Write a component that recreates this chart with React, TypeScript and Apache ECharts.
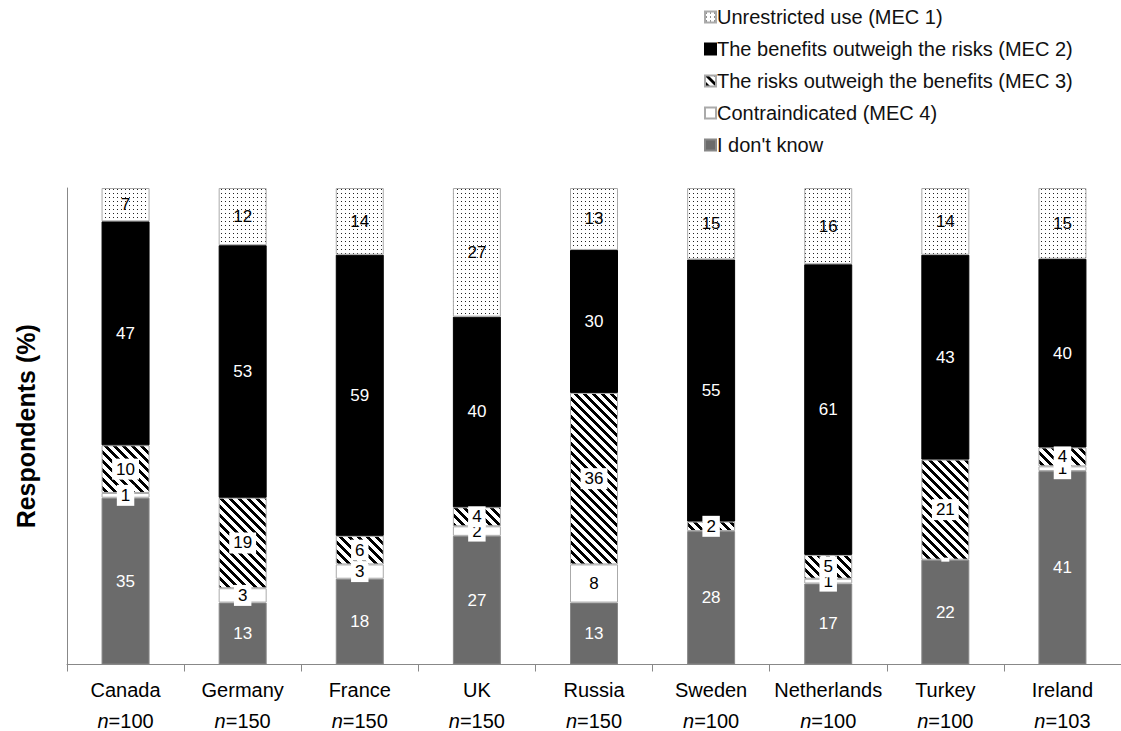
import React, { useEffect, useRef } from "react";
import * as echarts from "echarts";

const countries = ["Canada", "Germany", "France", "UK", "Russia", "Sweden", "Netherlands", "Turkey", "Ireland"];
const sampleSizes = [100, 150, 150, 150, 150, 100, 100, 100, 103];

const seriesNames = [
  "I don't know",
  "Contraindicated (MEC 4)",
  "The risks outweigh the benefits (MEC 3)",
  "The benefits outweigh the risks (MEC 2)",
  "Unrestricted use (MEC 1)",
];
const legendOrder = [
  "Unrestricted use (MEC 1)",
  "The benefits outweigh the risks (MEC 2)",
  "The risks outweigh the benefits (MEC 3)",
  "Contraindicated (MEC 4)",
  "I don't know",
];

const dontKnow = [35, 13, 18, 27, 13, 28, 17, 22, 41];
const mec4 = [1, 3, 3, 2, 8, 0, 1, 0, 1];
const mec3 = [10, 19, 6, 4, 36, 2, 5, 21, 4];
const mec2 = [47, 53, 59, 40, 30, 55, 61, 43, 40];
const mec1 = [7, 12, 14, 27, 13, 15, 16, 14, 15];

const FONT = "'Liberation Sans', Arial, Helvetica, sans-serif";

function makeHatch(): HTMLCanvasElement {
  const s = 9;
  const c = document.createElement("canvas");
  c.width = s;
  c.height = s;
  const ctx = c.getContext("2d")!;
  ctx.fillStyle = "#fff";
  ctx.fillRect(0, 0, s, s);
  ctx.fillStyle = "#000";
  for (let y = 0; y < s; y++) {
    for (let x = 0; x < s; x++) {
      const d = (((x - y) % s) + s) % s;
      if (d < 4) ctx.fillRect(x, y, 1, 1);
    }
  }
  return c;
}

function makeDots(): HTMLCanvasElement {
  const s = 4;
  const c = document.createElement("canvas");
  c.width = s;
  c.height = s;
  const ctx = c.getContext("2d")!;
  ctx.fillStyle = "#fff";
  ctx.fillRect(0, 0, s, s);
  ctx.fillStyle = "#222";
  ctx.fillRect(1, 1, 1, 1);
  return c;
}

export default function App() {
  const ref = useRef<HTMLDivElement>(null);
  useEffect(() => {
    if (!ref.current) return;
    const chart = echarts.init(ref.current, undefined, { renderer: "svg" });
    const raw = [dontKnow, mec4, mec3, mec2, mec1];
    const totals = countries.map((_, i) => raw.reduce((s, arr) => s + arr[i], 0));
    const hatch = makeHatch();
    const dots = makeDots();

    const styles: any[] = [
      { color: "#6b6b6b", borderColor: "#888", labelColor: "#fff", bg: "transparent" },
      { color: "#ffffff", borderColor: "#aaa", labelColor: "#000", bg: "#fff" },
      { color: { image: hatch, repeat: "repeat" }, borderColor: "#aaa", labelColor: "#000", bg: "#fff" },
      { color: "#000000", borderColor: "#000", labelColor: "#fff", bg: "transparent" },
      { color: { image: dots, repeat: "repeat" }, borderColor: "#aaa", labelColor: "#000", bg: "transparent" },
    ];

    const series = seriesNames.map((name, si) => ({
      name,
      type: "bar",
      stack: "total",
      barWidth: 48,
      data: raw[si].map((v, i) => ({
        value: (v / totals[i]) * 100,
        raw: v,
        itemStyle: v === 0 ? { borderWidth: 0 } : undefined,
      })),
      itemStyle: {
        color: styles[si].color,
        borderColor: styles[si].borderColor,
        borderWidth: 1,
      },
      label: {
        show: true,
        position: "inside",
        formatter: (p: any) => (p.data.raw === 0 ? "" : String(p.data.raw)),
        color: styles[si].labelColor,
        fontSize: 17,
        fontFamily: FONT,
        backgroundColor: styles[si].bg,
        padding: styles[si].bg === "#fff" ? [2, 4] : 0,
      },
    }));

    chart.setOption({
      animation: false,
      backgroundColor: "#fff",
      textStyle: { fontFamily: FONT },
      legend: {
        data: legendOrder,
        orient: "vertical",
        left: 699,
        top: 2,
        icon: "rect",
        itemWidth: 11,
        itemHeight: 11,
        itemGap: 12,
        textStyle: { fontSize: 20, color: "#111", fontFamily: FONT, padding: [0, 0, 0, -4] },
        selectedMode: false,
      },
      grid: { left: 67, top: 188, bottom: 66, right: -8, containLabel: false },
      xAxis: {
        type: "category",
        data: countries,
        axisLine: { lineStyle: { color: "#888", width: 1 } },
        axisTick: { show: true, length: 7, lineStyle: { color: "#888" } },
        axisLabel: {
          margin: 10,
          interval: 0,
          formatter: (v: string, i: number) => `{c|${v}}\n{i|n}{e|=${sampleSizes[i]}}`,
          rich: {
            c: { fontSize: 20, color: "#000", fontFamily: FONT, lineHeight: 31 },
            i: { fontSize: 20, color: "#000", fontFamily: FONT, fontStyle: "italic", lineHeight: 31 },
            e: { fontSize: 20, color: "#000", fontFamily: FONT, lineHeight: 31 },
          },
        },
      },
      yAxis: {
        type: "value",
        min: 0,
        max: 100,
        name: "Respondents (%)",
        nameLocation: "middle",
        nameGap: 29,
        nameTextStyle: { fontSize: 25, fontWeight: "bold", color: "#000", fontFamily: FONT },
        axisLine: { show: true, lineStyle: { color: "#888", width: 1 } },
        axisTick: { show: false },
        axisLabel: { show: false },
        splitLine: { show: false },
      },
      series,
    });
    return () => chart.dispose();
  }, []);
  return (
    <div
      ref={ref}
      style={{ position: "fixed", left: 0, top: 0, width: 1121, height: 731 }}
    />
  );
}
